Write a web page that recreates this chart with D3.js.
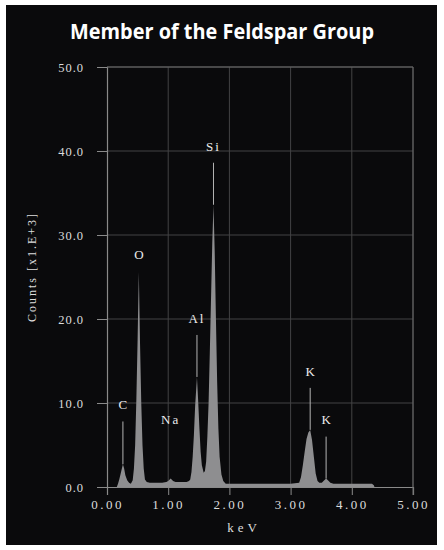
<!DOCTYPE html>
<html>
<head>
<meta charset="utf-8">
<script src="https://cdn.jsdelivr.net/npm/d3@7"></script>
<style>
  body { margin: 0; background: #fff; }
  svg { display: block; }
  .tick text { font-family: 'Liberation Serif', serif; fill: #dcdcdc; }
</style>
</head>
<body>
<svg id="chart" width="444" height="550"></svg>
<script>
// spectrum, energy in keV, counts in x1000
const energy = [
  0.16, 0.18, 0.20, 0.22, 0.24, 0.26, 0.28, 0.30, 0.33, 0.36, 0.39,
  0.42, 0.44, 0.46, 0.48, 0.50, 0.52, 0.54, 0.56, 0.58, 0.60, 0.62, 0.65,
  0.70, 0.80, 0.90, 0.97, 1.00, 1.04, 1.08, 1.12, 1.20, 1.30, 1.34,
  1.36, 1.38, 1.40, 1.42, 1.44, 1.47, 1.49, 1.51, 1.53, 1.55, 1.58,
  1.60, 1.62, 1.64, 1.66, 1.68, 1.70, 1.72, 1.74, 1.76, 1.78, 1.80, 1.82, 1.84, 1.87, 1.90, 1.94,
  2.20, 2.60, 3.00, 3.14,
  3.17, 3.20, 3.23, 3.26, 3.29, 3.32, 3.35, 3.38, 3.41, 3.44, 3.47,
  3.51, 3.55, 3.58, 3.61, 3.65, 3.70, 3.80, 4.00, 4.20, 4.33, 4.36, 4.37
]
const counts = [
  0.0, 0.4, 0.9, 1.5, 2.1, 2.7, 2.2, 1.4, 0.8, 0.5, 0.4,
  0.8, 2.2, 5.0, 10.5, 17.5, 25.6, 17.0, 10.0, 5.0, 2.2, 0.9, 0.6,
  0.5, 0.5, 0.5, 0.6, 0.7, 1.0, 0.7, 0.6, 0.6, 0.6, 0.7,
  0.9, 1.8, 3.6, 6.2, 9.6, 13.1, 10.2, 7.0, 4.2, 2.6, 1.7,
  1.9, 3.0, 6.0, 10.0, 16.0, 22.5, 29.0, 33.6, 28.0, 20.0, 12.5, 7.0, 3.6, 1.5, 0.7, 0.4,
  0.4, 0.4, 0.4, 0.5,
  1.2, 2.6, 4.2, 5.7, 6.5, 6.8, 5.6, 3.6, 1.6, 0.7, 0.5,
  0.5, 0.8, 1.0, 0.8, 0.5, 0.4, 0.4, 0.4, 0.4, 0.4, 0.2, 0.0
]

// element markers
const elemNames   = ['C', 'O', 'Na', 'Al', 'Si', 'K', 'K']
const elemEnergy  = [0.26, 0.52, 1.04, 1.47, 1.74, 3.32, 3.58]
const elemLabelY  = [9.8, 27.7, 8.0, 20.1, 40.5, 13.7, 8.1]
const elemLineTop = [7.8, 25.6, 1.0, 18.1, 38.6, 11.8, 6.0]
const elemLineBot = [2.7, 25.6, 1.0, 13.1, 33.6, 6.8, 1.0]

const xTicks = [0, 1, 2, 3, 4, 5]
const yTicks = [0, 10, 20, 30, 40, 50]

const svg = d3.select('#chart')

svg.append('rect')
    .attr('x', 6)
    .attr('y', 5)
    .attr('width', 431)
    .attr('height', 540)
    .style('fill', '#0a0a0c')

svg.append('text')
    .attr('x', 222)
    .attr('y', 39)
    .attr('text-anchor', 'middle')
    .attr('textLength', 304)
    .attr('lengthAdjust', 'spacingAndGlyphs')
    .style('font-family', "'Open Sans', sans-serif")
    .style('font-weight', 700)
    .style('font-size', '21px')
    .style('fill', '#fff')
    .text('Member of the Feldspar Group')

const margin = { left: 107, top: 67 },
  width = 306,
  height = 420

const g = svg.append('g')
    .attr('transform', `translate(${ margin.left },${ margin.top })`)

const x = d3.scaleLinear().domain([0, 5]).range([0, width])
const y = d3.scaleLinear().domain([0, 50]).range([height, 0])

// grid
g.append('g')
  .selectAll('line')
  .data(xTicks.slice(1))
  .enter().append('line')
    .attr('x1', d => x(d))
    .attr('x2', d => x(d))
    .attr('y1', 0)
    .attr('y2', height)
    .style('stroke', '#434345')
    .style('stroke-width', 1)

g.append('g')
  .selectAll('line')
  .data(yTicks.slice(1))
  .enter().append('line')
    .attr('x1', 0)
    .attr('x2', width)
    .attr('y1', d => y(d))
    .attr('y2', d => y(d))
    .style('stroke', '#434345')
    .style('stroke-width', 1)

// spectrum
const area = d3.area()
    .x((d, i) => x(energy[i]))
    .y0(y(0))
    .y1(d => y(d))

g.append('path')
    .datum(counts)
    .attr('d', area)
    .style('fill', '#8e8e90')

// marker lines
g.append('g')
  .selectAll('line')
  .data(elemNames)
  .enter().append('line')
    .attr('x1', (d, i) => x(elemEnergy[i]))
    .attr('x2', (d, i) => x(elemEnergy[i]))
    .attr('y1', (d, i) => y(elemLineTop[i]))
    .attr('y2', (d, i) => y(elemLineBot[i]))
    .style('stroke', '#b4b4b4')
    .style('stroke-width', 1)

g.append('g')
  .selectAll('text')
  .data(elemNames)
  .enter().append('text')
    .attr('x', (d, i) => x(elemEnergy[i]))
    .attr('y', (d, i) => y(elemLabelY[i]))
    .attr('dy', '0.35em')
    .attr('text-anchor', 'middle')
    .style('font-family', "'Liberation Serif', serif")
    .style('font-size', '13px')
    .style('letter-spacing', d => d.length > 1 ? '2px' : '0px')
    .style('fill', '#ececec')
    .text(d => d)

// axes
const xAxis = g.append('g')
    .attr('transform', `translate(0,${ height })`)
    .call(d3.axisBottom(x).tickValues(xTicks).tickFormat(d3.format('.2f')).tickSize(8).tickPadding(5))

xAxis.selectAll('text')
    .style('font-size', '13px')
    .style('letter-spacing', '2.5px')

const yAxis = g.append('g')
    .call(d3.axisLeft(y).tickValues(yTicks).tickFormat(d3.format('.1f')).tickSize(10).tickPadding(13))

yAxis.selectAll('text')
    .style('font-size', '12.5px')
    .style('letter-spacing', '1px')

svg.selectAll('.domain').style('stroke', '#8a8a8a').style('stroke-width', 1.2)
svg.selectAll('.tick line').style('stroke', '#8a8a8a')

// top and right borders
g.append('line')
    .attr('x1', 0).attr('x2', width)
    .attr('y1', 0).attr('y2', 0)
    .style('stroke', '#6a6a6a')
g.append('line')
    .attr('x1', width).attr('x2', width)
    .attr('y1', 0).attr('y2', height + 8)
    .style('stroke', '#6a6a6a')

svg.append('text')
    .attr('x', 244)
    .attr('y', 532)
    .attr('text-anchor', 'middle')
    .style('font-family', "'Liberation Serif', serif")
    .style('font-size', '13px')
    .style('letter-spacing', '4px')
    .style('fill', '#dcdcdc')
    .text('keV')

svg.append('text')
    .attr('transform', 'translate(36,267) rotate(-90)')
    .attr('text-anchor', 'middle')
    .style('font-family', "'Liberation Serif', serif")
    .style('font-size', '12px')
    .style('letter-spacing', '2px')
    .style('fill', '#dcdcdc')
    .text('Counts [x1.E+3]')
</script>
</body>
</html>
